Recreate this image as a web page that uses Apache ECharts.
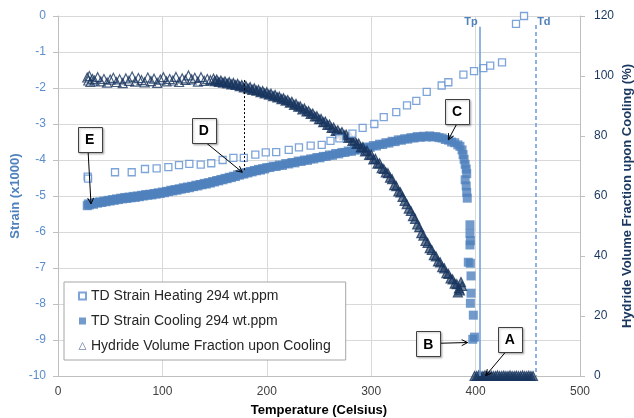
<!DOCTYPE html>
<html>
<head>
<meta charset="utf-8">
<title>Strain and hydride fraction</title>
<script src="https://cdn.jsdelivr.net/npm/echarts/dist/echarts.min.js"></script>
<style>
  html, body { margin: 0; padding: 0; background: #fff; }
  #chart { width: 634px; height: 418px; }
</style>
</head>
<body>
<div id="chart"></div>
<script>
// TD strain on heating, [temperature C, strain x1000]
var heating = [
  [28.4,-4.46],[28.8,-4.52],[54.6,-4.34],[70.6,-4.34],[83.3,-4.25],[94.5,-4.23],[105.7,-4.2],
  [115.9,-4.14],[125.8,-4.11],[136.7,-4.13],[146.8,-4.09],[157.7,-4.0],[168,-3.94],[178,-3.94],
  [189,-3.85],[199,-3.79],[209,-3.78],[221,-3.72],[230.8,-3.65],[242,-3.6],[252.6,-3.58],
  [261,-3.47],[269.5,-3.4],[282,-3.27],[291.8,-3.11],[303,-3.0],[312,-2.81],[324,-2.67],
  [334.3,-2.48],[343.2,-2.36],[353.2,-2.11],[367.5,-1.93],[373.9,-1.84],[388.3,-1.63],
  [398.5,-1.53],[407.4,-1.45],[414,-1.38],[425.3,-1.29],[438.7,-0.22],[446.4,0.0]
];

// TD strain on cooling
var cooling = [
  [28,-5.27],[29,-5.22],[30,-5.25],[32,-5.21],[34,-5.23],[36,-5.18],[38,-5.2],[40,-5.16],[42,-5.18],
  [44,-5.14],[46,-5.16],[48,-5.12],[50,-5.14],[52,-5.1],[54,-5.12],[56,-5.08],[58,-5.1],[60,-5.06],
  [62,-5.08],[64,-5.04],[66,-5.07],[68,-5.03],[70,-5.05],[72,-5.01],[74,-5.04],[76,-5.0],[78,-5.02],
  [80,-4.98],[82,-5.0],[84,-4.96],[86,-4.98],[88,-4.95],[90,-4.97],[92,-4.93],[94,-4.95],[96,-4.91],
  [98,-4.93],[100,-4.89],[102,-4.91],[104,-4.87],[106,-4.88],[108,-4.84],[110,-4.86],[112,-4.82],
  [114,-4.84],[116,-4.8],[118,-4.81],[120,-4.77],[122,-4.79],[124,-4.75],[126,-4.77],[128,-4.73],
  [130,-4.74],[132,-4.7],[134,-4.72],[136,-4.68],[138,-4.69],[140,-4.65],[142,-4.67],[144,-4.63],
  [146,-4.64],[148,-4.6],[150,-4.61],[152,-4.57],[154,-4.58],[156,-4.54],[158,-4.55],[160,-4.51],
  [162,-4.52],[164,-4.48],[166,-4.49],[168,-4.45],[170,-4.46],[172,-4.41],[174,-4.42],[176,-4.38],
  [178,-4.39],[180,-4.35],[182,-4.36],[184,-4.32],[186,-4.33],[188,-4.29],[190,-4.3],[192,-4.26],
  [194,-4.28],[196,-4.24],[198,-4.25],[200,-4.21],[203,-4.21],[206,-4.17],[209,-4.18],[212,-4.14],
  [215,-4.15],[218,-4.1],[221,-4.11],[224,-4.07],[227,-4.08],[230,-4.03],[233,-4.04],[236,-4.0],
  [239,-4.01],[242,-3.97],[245,-3.97],[248,-3.93],[251,-3.94],[254,-3.9],[257,-3.9],[260,-3.86],
  [263,-3.87],[266,-3.82],[269,-3.83],[272,-3.79],[275,-3.79],[278,-3.75],[281,-3.76],[284,-3.72],
  [287,-3.72],[290,-3.68],[293,-3.68],[296,-3.64],[299,-3.65],[302,-3.6],[305,-3.61],[308,-3.56],
  [311,-3.57],[314,-3.52],[317,-3.53],[320,-3.48],[323,-3.49],[326,-3.44],[329,-3.45],[332,-3.41],
  [335,-3.42],[338,-3.38],[341,-3.39],[344,-3.35],[347,-3.37],[350,-3.34],[353,-3.36],[356,-3.33],
  [359,-3.36],[362,-3.35],[365,-3.38],[368,-3.39],[371,-3.43],[374,-3.45],[377,-3.5],[380,-3.52],
  [383,-3.58],[385,-3.62],[387,-3.72],[388,-3.85],[389,-3.98],[390,-4.12],[391,-4.25],[391.5,-4.38],
  [390,-4.55],[391,-4.72],[391.5,-4.9],[392,-5.06],[394.6,-5.8],[394.6,-6.04],[395,-6.24],
  [394.6,-6.36],[393,-6.84],[395,-6.87],[395.6,-7.22],[395.6,-7.7],[395,-7.98],[397.8,-8.31],
  [397.3,-8.98],[399,-8.92]
];

// hydride volume fraction upon cooling, [temperature C, %]
var hydride = [
  [28,99.5],[29,98.5],[30,100],[31,98],[33,99],[35,98.5],[38,99.6],[41,98.2],[44,99],[47,97.8],
  [50,98.8],[53,99.4],[56,98],[59,98.9],[62,97.6],[65,99.2],[68,98.4],[71,99.8],[74,98.1],[77,99.3],
  [80,98.6],[83,97.9],[86,99.5],[89,98.3],[92,99.1],[95,97.7],[98,98.8],[101,99.6],[104,98.2],
  [107,99],[110,98.5],[113,99.7],[116,98],[119,99.2],[122,98.7],[125,100.2],[128,98.9],[131,99.4],
  [134,98.1],[137,99.6],[140,98.4],[143,99],[146,98.6],[149,99.1],
  [150,98.3],[152,98.8],[154,98],[156,98.5],[158,97.8],[160,98.2],[162,97.5],[164,98],[166,97.2],
  [168,97.7],[170,97],[172,97.4],[174,96.6],[176,97],[178,96.2],[180,96.7],[182,95.8],[184,96.3],
  [186,95.4],[188,95.9],[190,95.1],[192,95.4],[194,94.6],[196,95],[198,94.2],[200,94.6],[202,93.8],
  [204,94.1],[206,93.3],[208,93.7],[210,92.9],[212,93.1],[214,92.3],[216,92.6],[218,91.8],[220,92],
  [222,91.1],[224,91.4],[226,90.4],[228,90.7],[230,89.8],[232,89.9],[234,88.9],[236,89.2],[238,88.2],
  [240,88.3],[242,87.4],[244,87.5],[246,86.5],[248,86.6],[250,85.6],[252,85.7],[254,84.6],[256,84.8],
  [258,83.7],[260,83.8],[262,82.7],[264,82.8],[266,81.7],[268,81.9],[270,80.9],[272,81.3],[274,80.3],
  [276,80.5],[278,79.4],[280,79.6],[282,78.4],[284,78.6],[286,77.4],[288,77.5],[290,76.2],[292,76.3],
  [294,74.9],[296,75.1],[298,73.7],[300,73.8],[302,72.2],[304,72.4],[306,70.8],[308,70.9],[310,69.3],
  [312,69],[314,67.9],[316,67.6],[318,66.1],[320,65.6],[322,63.6],[324,63.3],[326,61.5],[328,61.2],
  [330,59.7],[332,58.4],[334,57.3],[336,55.8],[338,55],[340,53.3],[342,52.4],[344,50.5],[346,49.6],
  [348,47.6],[350,46.8],[352,45],[354,44.4],[356,42.6],[358,42],[360,40.3],[362,39.9],[364,38.2],
  [366,37.9],[368,36.3],[370,35.9],[372,34.3],[374,34],[376,32.5],[378,32.2],[380,30.8],[382,30.6],
  [384,29.2],[385,28.5],[386,31.3],[383,27.9],[387,30],
  [399,0],[401,0],[403,0.2],[405,0],[407,0],[409,0.2],[411,0],[413,0],[415,0.1],[417,0],[419,0],
  [421,0.2],[423,0],[425,0],[427,0.1],[429,0],[431,0],[433,0.2],[435,0],[437,0],[439,0.1],[441,0],
  [443,0],[445,0.2],[447,0],[449,0],[451,0.1],[453,0],[455,0]
];

// characteristic temperatures (vertical lines)
var tempNames = ['Tp', 'Td'];
var tempValues = [404, 458];

var FONT = 'Liberation Sans';
var LIGHT = '#4f81bd';
var HEAT = '#5b8dd0';
var NAVY = '#19365f';

var chart = echarts.init(document.getElementById('chart'), null, { renderer: 'canvas' });

chart.setOption({
  animation: false,
  backgroundColor: '#fff',
  textStyle: { fontFamily: FONT },
  grid: { left: 58, right: 54, top: 16, bottom: 42, outerBoundsMode: 'none', containLabel: false },
  legend: {
    orient: 'vertical',
    left: 64,
    top: 282,
    itemWidth: 7,
    itemHeight: 7,
    itemGap: 9,
    padding: [6, 15, 6, 14],
    backgroundColor: '#fff',
    borderColor: '#a6a6a6',
    borderWidth: 1,
    textStyle: { fontFamily: FONT, fontSize: 14, color: '#262626', lineHeight: 16 },
    data: [
      { name: 'TD Strain Heating 294 wt.ppm' },
      { name: 'TD Strain Cooling 294 wt.ppm' },
      { name: 'Hydride Volume Fraction upon Cooling',
        itemStyle: { color: '#fff', borderColor: '#7a8fb0', borderWidth: 1 } }
    ]
  },
  xAxis: {
    type: 'value',
    min: 0, max: 500, interval: 100,
    name: 'Temperature (Celsius)',
    nameLocation: 'middle',
    nameGap: 28,
    nameMoveOverlap: false,
    nameTextStyle: { fontFamily: FONT, fontSize: 13, fontWeight: 'bold', color: '#000' },
    axisLine: { onZero: false, lineStyle: { color: '#bfbfbf' } },
    axisTick: { show: false },
    axisLabel: { fontFamily: FONT, fontSize: 12, color: '#404040', margin: 10 },
    splitLine: { show: true, lineStyle: { color: '#d9d9d9' } }
  },
  yAxis: [
    {
      type: 'value',
      min: -10, max: 0, interval: 1,
      name: 'Strain (x1000)',
      nameLocation: 'middle',
      nameGap: 36,
      nameMoveOverlap: false,
      nameTextStyle: { fontFamily: FONT, fontSize: 13, fontWeight: 'bold', color: LIGHT },
      axisLine: { show: true, lineStyle: { color: '#bfbfbf' } },
      axisTick: { show: true, length: 5, lineStyle: { color: '#bfbfbf' } },
      axisLabel: { fontFamily: FONT, fontSize: 12, color: '#5b8ccc', margin: 12 },
      splitLine: { show: true, lineStyle: { color: '#d9d9d9' } }
    },
    {
      type: 'value',
      min: 0, max: 120, interval: 20,
      position: 'right',
      name: 'Hydride Volume Fraction upon Cooling (%)',
      nameLocation: 'middle',
      nameGap: 41,
      nameMoveOverlap: false,
      nameTextStyle: { fontFamily: FONT, fontSize: 13, fontWeight: 'bold', color: NAVY },
      axisLine: { show: true, lineStyle: { color: '#bfbfbf' } },
      axisTick: { show: true, length: 5, lineStyle: { color: '#bfbfbf' } },
      axisLabel: { fontFamily: FONT, fontSize: 12, color: NAVY, margin: 14 },
      splitLine: { show: false }
    }
  ],
  // drawing order: cooling, hydride, heating on top
  series: [
    {
      name: 'TD Strain Cooling 294 wt.ppm',
      type: 'scatter',
      symbol: 'rect',
      symbolSize: 9,
      itemStyle: { color: LIGHT },
      data: cooling
    },
    {
      name: 'Hydride Volume Fraction upon Cooling',
      type: 'scatter',
      yAxisIndex: 1,
      symbol: 'triangle',
      symbolSize: 9,
      itemStyle: {
        // sparse early points read as hollow, the dense cooling branch as a solid band
        color: function (p) { return p.value[0] < 150 ? 'rgba(255,255,255,0)' : 'rgba(25,54,95,0.75)'; },
        borderColor: NAVY,
        borderWidth: 1.2
      },
      data: hydride
    },
    {
      name: 'TD Strain Heating 294 wt.ppm',
      type: 'scatter',
      symbol: 'rect',
      symbolSize: 7,
      itemStyle: { color: '#fff', borderColor: HEAT, borderWidth: 1.3 },
      data: heating,
      // Tp / Td lines
      markLine: {
        silent: true,
        symbol: ['none', 'none'],
        label: { show: false },
        data: [
          [{ coord: [tempValues[0], -0.3], lineStyle: { type: 'solid' } }, { coord: [tempValues[0], -10] }],
          [{ coord: [tempValues[1], -0.25], lineStyle: { type: [4, 3] } }, { coord: [tempValues[1], -10] }]
        ],
        lineStyle: { color: '#6b9bd8', width: 1.5 }
      }
    }
  ]
});

// annotation boxes with arrows, given in (temperature, strain)
var notes = [
  { label: 'E', box: [30.4, -3.43], from: [28.9, -3.79], to: [31.6, -5.22] },
  { label: 'D', box: [139.7, -3.17], from: [141.8, -3.52], to: [176.5, -4.34] },
  { label: 'C', box: [382.2, -2.64], from: [381.9, -3.0], to: [373.9, -3.44] },
  { label: 'B', box: [354.7, -9.11], from: [365.9, -9.09], to: [392.4, -9.07] },
  { label: 'A', box: [432.7, -8.98], from: [428.8, -9.33], to: [409.7, -9.99] }
];

function px(p) {
  return chart.convertToPixel({ gridIndex: 0 }, p);
}

function arrow(a, b) {
  var dx = b[0] - a[0], dy = b[1] - a[1];
  var len = Math.sqrt(dx * dx + dy * dy);
  var ux = dx / len, uy = dy / len, h = 6, w = 3;
  return [
    { type: 'line', silent: true, z: 100, shape: { x1: a[0], y1: a[1], x2: b[0], y2: b[1] },
      style: { stroke: '#000', lineWidth: 1 } },
    { type: 'polyline', silent: true, z: 100,
      shape: { points: [[b[0] - ux * h - uy * w, b[1] - uy * h + ux * w], [b[0], b[1]],
                        [b[0] - ux * h + uy * w, b[1] - uy * h - ux * w]] },
      style: { stroke: '#000', fill: null, lineWidth: 1 } }
  ];
}

var g = [];
notes.forEach(function (n) {
  var c = px(n.box);
  g = g.concat(arrow(px(n.from), px(n.to)));
  g.push({ type: 'rect', silent: true, z: 101,
    shape: { x: Math.round(c[0] - 12) + 0.5, y: Math.round(c[1] - 12.5) + 0.5, width: 24, height: 25 },
    style: { fill: '#fff', stroke: '#404040', lineWidth: 1, shadowBlur: 2, shadowColor: 'rgba(0,0,0,0.25)', shadowOffsetX: 1, shadowOffsetY: 1 } });
  g.push({ type: 'text', silent: true, z: 102, x: c[0], y: c[1] + 1,
    style: { text: n.label, font: 'bold 14px ' + FONT, fill: '#000',
             align: 'center', verticalAlign: 'middle', textAlign: 'center', textVerticalAlign: 'middle' } });
});

// dotted link from D point up to hydride curve
var d1 = px([177.9, -1.78]), d2 = px([177.9, -4.28]);
g.push({ type: 'line', silent: true, z: 99,
  shape: { x1: Math.round(d1[0]) + 0.5, y1: d1[1], x2: Math.round(d1[0]) + 0.5, y2: d2[1] },
  style: { stroke: '#000', lineWidth: 1, lineDash: [2, 2] } });

// Tp / Td labels
tempNames.forEach(function (name, i) {
  var p = px([tempValues[i], -0.3]);
  g.push({ type: 'text', silent: true, z: 102, x: i === 0 ? p[0] - 2 : p[0] + 1, y: p[1] + 1,
    style: { text: name, font: 'bold 11px ' + FONT, fill: '#4f81bd',
             align: i === 0 ? 'right' : 'left', verticalAlign: 'bottom',
             textAlign: i === 0 ? 'right' : 'left', textVerticalAlign: 'bottom' } });
});

chart.setOption({ graphic: g });
</script>
</body>
</html>
